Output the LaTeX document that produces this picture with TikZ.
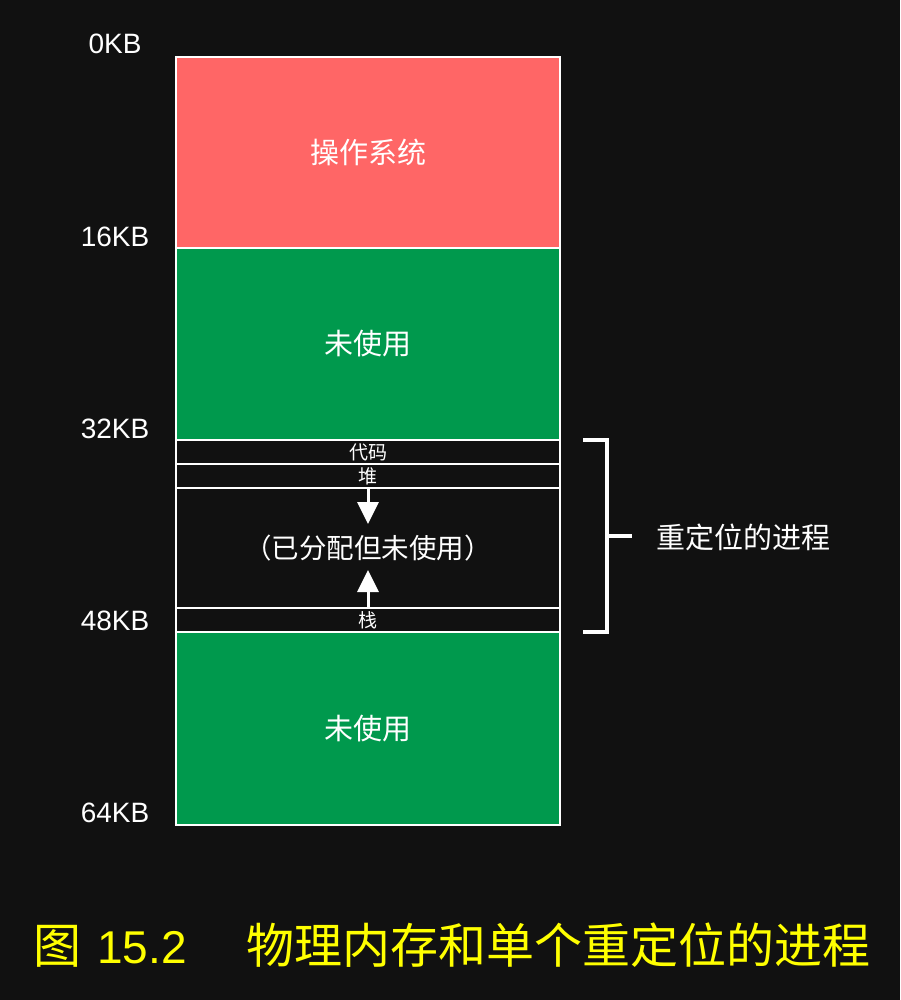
\documentclass[tikz,border=0pt]{standalone}
\usepackage{fontspec}
\setmainfont{Liberation Sans}
\newfontfamily\cjk{Noto Sans CJK SC}
\usetikzlibrary{arrows.meta}
\definecolor{bg}{HTML}{111111}
\definecolor{osred}{HTML}{FF6666}
\definecolor{freegreen}{HTML}{00994D}
\definecolor{capyellow}{HTML}{FFFF00}
\begin{document}
\begin{tikzpicture}[x=1pt,y=-1pt,
  seg/.style={draw=white, line width=2pt, inner sep=0pt, outer sep=0pt,
    minimum width=384pt, text=white, font=\cjk\fontsize{29}{29}\selectfont},
  smallseg/.style={seg, fill=bg, font=\cjk\fontsize{19}{19}\selectfont},
  addr/.style={text=white, font=\fontsize{28}{28}\selectfont, inner sep=0pt, anchor=base},
  arr/.style={draw=white, line width=3pt, -{Triangle[width=21pt,length=22pt]}},
  bracket/.style={draw=white, line width=4pt, line join=miter},
  capcjk/.style={text=capyellow, font=\cjk\fontsize{48}{48}\selectfont, inner sep=0pt, anchor=base west},
  caplat/.style={text=capyellow, font=\fontsize{46}{46}\selectfont, inner sep=0pt, anchor=base west}]
\fill[bg] (0,0) rectangle (900,1000);
\useasboundingbox (0,0) rectangle (900,1000);
% memory segments
\node[seg, fill=osred, minimum height=191pt] (os) at (368,152.5) {操作系统};
\node[seg, fill=freegreen, minimum height=192pt] (free1) at (368,344) {未使用};
\node[smallseg, minimum height=24pt] (code) at (368,452) {代码};
\node[smallseg, minimum height=24pt] (heap) at (368,476) {堆};
\node[seg, fill=bg, minimum height=120pt, font=\cjk\fontsize{27.5}{27.5}\selectfont] (gap) at (368,548) {（已分配但未使用）};
\node[smallseg, minimum height=24pt] (stack) at (368,620) {栈};
\node[seg, fill=freegreen, minimum height=193pt] (free2) at (368,728.5) {未使用};
% arrows
\coordinate (heaptip) at (368,524);
\coordinate (stacktip) at (368,570);
\draw[arr] (heap.south) -- (heaptip);
\draw[arr] (stack.north) -- (stacktip);
% address labels
\node[addr] (a0) at (115,54) {0KB};
\node[addr] (a16) at (115,246) {16KB};
\node[addr] (a32) at (115,438) {32KB};
\node[addr] (a48) at (115,630) {48KB};
\node[addr] (a64) at (115,822) {64KB};
% bracket
\coordinate (bt) at (583,440);
\coordinate (btr) at (607,440);
\coordinate (bbr) at (607,632);
\coordinate (bb) at (583,632);
\coordinate (bm) at (607,536);
\coordinate (bmt) at (632,536);
\draw[bracket] (bt) -- (btr) -- (bbr) -- (bb);
\draw[bracket] (bm) -- (bmt);
\node[text=white, font=\cjk\fontsize{29}{29}\selectfont, inner sep=0pt, anchor=west] (proc) at (656,537) {重定位的进程};
% caption
\node[capcjk] (capfig) at (33,963) {图};
\node[caplat] (capnum) at (97,963) {15.2};
\node[capcjk] (captext) at (246,963) {物理内存和单个重定位的进程};
\end{tikzpicture}
\end{document}
